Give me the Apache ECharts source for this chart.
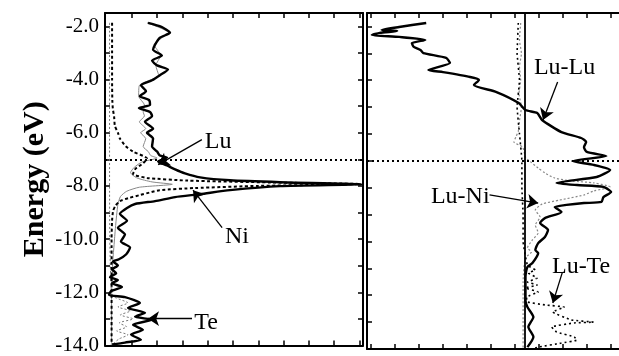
<!DOCTYPE html>
<html>
<head>
<meta charset="utf-8">
<script src="https://cdn.jsdelivr.net/npm/echarts@6/dist/echarts.min.js"></script>
<style>
  html, body { margin: 0; padding: 0; background: #fff; }
  #chart { width: 619px; height: 356px; }
</style>
</head>
<body>
<div id="chart"></div>
<script>
// energy (eV) and DOS
const totalE = [-1.87,-2.02,-2.24,-2.43,-2.69,-2.88,-3.10,-3.29,-3.47,-3.62,-3.84,-4.03,-4.22,-4.44,-4.63,-4.77,-4.96,-5.07,-5.22,-5.37,-5.59,-5.85,-6.00,-6.22,-6.52,-6.71,-6.86,-6.93,-7.08,-7.23,-7.38,-7.53,-7.68,-7.79,-7.86,-7.94,-8.01,-8.16,-8.31,-8.42,-8.57,-8.68,-8.83,-9.05,-9.31,-9.57,-9.83,-10.09,-10.32,-10.58,-10.76,-10.84,-10.99,-11.14,-11.28,-11.43,-11.54,-11.66,-11.80,-11.95,-12.10,-12.18,-12.40,-12.59,-12.77,-12.92,-13.03,-13.22,-13.41,-13.59,-13.78,-13.89,-13.96];
const totalDos = [1.64,2.17,2.51,2.11,1.92,1.84,2.19,1.80,2.00,2.43,2.11,1.80,1.36,1.56,1.32,1.68,1.72,1.28,1.72,1.80,1.52,1.84,1.60,1.84,1.80,2.00,2.11,2.39,2.04,2.39,2.71,3.10,3.70,4.88,6.86,10.1,6.86,4.88,3.70,2.71,1.92,1.13,0.81,0.53,0.81,0.45,0.73,0.57,0.93,0.77,0.49,0.26,0.45,0.22,0.38,0.14,0.45,0.22,0.61,0.18,0.10,0.73,1.32,0.85,1.52,1.13,1.80,1.05,1.44,0.97,1.36,0.73,0.22];

const luE = [-1.87,-2.24,-2.69,-3.10,-3.47,-3.84,-4.22,-4.63,-4.96,-5.22,-5.37,-5.59,-5.85,-6.00,-6.22,-6.52,-6.71,-6.86,-6.95,-7.10,-7.30,-7.50,-7.70,-7.85,-7.94,-8.05,-8.20,-8.40,-8.70,-9.10,-9.60,-10.2,-10.8,-11.5,-12.2,-13.0,-13.96];
const luDos = [1.60,2.45,1.88,2.14,1.95,2.06,1.30,1.27,1.50,1.45,1.50,1.30,1.55,1.35,1.55,1.45,1.65,1.75,2.00,1.40,1.10,0.95,1.20,1.80,2.60,1.30,0.80,0.55,0.45,0.40,0.35,0.30,0.25,0.22,0.20,0.20,0.20];

const niE = [-1.87,-3.0,-4.0,-4.8,-5.1,-5.4,-5.74,-6.0,-6.22,-6.5,-6.71,-6.97,-7.15,-7.35,-7.55,-7.7,-7.8,-7.87,-7.93,-8.0,-8.08,-8.16,-8.25,-8.35,-8.45,-8.57,-8.75,-8.94,-9.3,-10,-11,-12,-13,-13.96];
const niDos = [0.22,0.22,0.22,0.23,0.25,0.30,0.33,0.45,0.53,0.75,1.05,1.60,1.45,1.15,1.05,1.6,3.2,6.5,10.0,6.0,3.5,2.1,1.7,1.3,0.9,0.53,0.35,0.26,0.22,0.2,0.2,0.2,0.2,0.2];

const teE = [-1.87,-4,-6,-8,-10,-11,-11.8,-12.05,-12.2,-12.4,-12.55,-12.7,-12.85,-13.0,-13.15,-13.3,-13.45,-13.6,-13.75,-13.9,-13.98];
const teDos = [0.12,0.12,0.12,0.12,0.13,0.15,0.18,0.2,0.35,0.85,0.45,0.95,0.55,1.05,0.5,0.8,0.4,0.85,0.5,0.3,0.2];

// COOP
const luluE = [-1.87,-2.02,-2.13,-2.17,-2.24,-2.32,-2.39,-2.50,-2.62,-2.76,-2.88,-2.99,-3.17,-3.36,-3.62,-3.70,-3.88,-3.99,-4.18,-4.44,-4.85,-5.11,-5.22,-5.48,-5.93,-6.15,-6.30,-6.49,-6.67,-6.82,-7.01,-7.15,-7.34,-7.60,-7.82,-7.90,-7.97,-8.16,-8.35,-8.53,-8.57,-8.64,-8.72,-8.90,-9.13,-9.31,-9.57,-9.83,-10.06,-10.32,-10.43,-10.80,-10.95,-11.3,-11.8,-12.2,-12.44,-12.81,-13.18,-13.55,-13.93];
const luluCoop = [-4.09,-5.22,-5.95,-5.30,-6.03,-6.36,-5.22,-4.13,-4.69,-4.61,-4.33,-4.21,-3.26,-3.10,-4.00,-3.39,-2.26,-1.89,-2.10,-1.16,-0.23,0.05,0.54,0.74,1.55,2.37,2.58,2.49,2.61,3.42,2.00,2.89,3.58,3.02,1.35,2.20,3.30,3.62,3.30,3.22,2.49,1.76,1.27,1.55,0.86,0.66,0.99,0.86,0.58,0.46,0.58,0.34,0.13,0.05,0.05,0.05,0.13,0.38,0.17,0.38,0.13];

const luniE = [-1.87,-2.5,-3.0,-3.5,-4.0,-4.5,-5.0,-5.5,-5.9,-6.11,-6.30,-6.49,-6.86,-6.97,-7.27,-7.45,-7.64,-7.75,-7.82,-7.97,-8.12,-8.27,-8.46,-8.61,-8.83,-9.09,-9.39,-9.68,-9.94,-10.24,-10.39,-10.61,-11.5,-12.5,-13.96];
const luniCoop = [-0.15,-0.2,-0.12,-0.2,-0.15,-0.22,-0.12,-0.2,-0.25,-0.35,-0.43,-0.07,0.05,0.17,0.58,0.86,1.27,2.0,2.9,3.58,2.9,2.49,1.47,0.74,0.46,0.66,0.46,0.58,0.34,0.13,0.30,0.05,-0.05,-0.05,-0.05];

const luteE = [-1.87,-3.0,-4.0,-5.0,-6.0,-7.0,-8.0,-9.0,-10.0,-10.88,-11.06,-11.17,-11.36,-11.51,-11.62,-11.73,-11.88,-12.07,-12.25,-12.36,-12.44,-12.62,-12.92,-13.00,-13.03,-13.18,-13.37,-13.55,-13.67,-13.78,-13.93,-14.0];
const luteCoop = [-0.25,-0.3,-0.2,-0.3,-0.2,-0.1,-0.1,-0.05,-0.05,0.13,0.46,0.17,0.54,0.13,0.54,0.05,0.58,0.09,0.13,0.86,1.67,1.18,1.96,2.89,2.08,1.14,1.35,2.08,2.20,1.55,0.58,0.34];

const fermiLevel = -7.0;
const leftTicks = [1,2,3,4,5,6,7,8,9,10];
const rightTicks = [-6.4,-5.4,-4.4,-3.4,-2.4,-1.4,-0.4,0.6,1.6,2.6,3.6];

const pairs = (xs, es) => es.map((e, i) => [xs[i], e]);
const serif = '"Liberation Serif", "DejaVu Serif", serif';
const black = '#000';

const lineAxis = { show: true, onZero: false, lineStyle: { color: black, width: 2 } };
function xAx(grid, pos, min, max, ticks) {
  return {
    type: 'value', gridIndex: grid, position: pos, min: min, max: max,
    axisLine: lineAxis,
    axisTick: { show: true, inside: true, length: 5, customValues: ticks, lineStyle: { color: black, width: 1.5 } },
    axisLabel: { show: false },
    splitLine: { show: false }
  };
}
function yAx(grid, pos, withLabels) {
  return {
    type: 'value', gridIndex: grid, position: pos, min: -14, max: -1.5, interval: 1,
    axisLine: lineAxis,
    axisTick: { show: true, inside: true, length: 5, lineStyle: { color: black, width: 1.5 } },
    axisLabel: withLabels ? {
      show: true, margin: 6, color: black, fontFamily: serif, fontSize: 21,
      formatter: v => (Math.abs(v % 2) < 1e-6 ? v.toFixed(1) : '')
    } : { show: false },
    splitLine: { show: false },
    name: withLabels ? 'Energy (eV)' : '',
    nameLocation: 'middle',
    nameGap: 55,
    nameTextStyle: { fontFamily: serif, fontWeight: 'bold', fontSize: 30, color: black }
  };
}
function arrow(from, to) {
  return [{ coord: from, symbol: 'none' }, { coord: to, symbol: 'arrow', symbolSize: 11 }];
}
function tag(text, at) {
  return { name: text, coord: at };
}
const arrowLine = (items) => ({
  silent: true, symbol: ['none', 'arrow'], symbolSize: 11,
  label: { show: false },
  itemStyle: { color: black },
  lineStyle: { color: black, width: 1.3, type: 'solid' },
  emphasis: { disabled: true },
  data: items
});
const tags = (items) => ({
  silent: true, symbol: 'circle', symbolSize: 0,
  label: { show: true, position: 'inside', formatter: '{b}', color: black, fontFamily: serif, fontSize: 24 },
  data: items
});
const fermi = {
  silent: true, symbol: 'none', label: { show: false },
  lineStyle: { color: black, width: 2, type: [2, 3] },
  emphasis: { disabled: true },
  data: [{ yAxis: fermiLevel }]
};

const chart = echarts.init(document.getElementById('chart'));
chart.setOption({
  animation: false,
  backgroundColor: '#fff',
  grid: [
    { left: 105, top: 13, width: 258, height: 336 },
    { left: 367, top: 13, width: 259, height: 336 }
  ],
  xAxis: [
    xAx(0, 'bottom', -0.06, 10.14, leftTicks),
    xAx(0, 'top', -0.06, 10.14, leftTicks),
    xAx(1, 'bottom', -6.56, 3.95, rightTicks),
    xAx(1, 'top', -6.56, 3.95, rightTicks)
  ],
  yAxis: [
    yAx(0, 'left', true),
    yAx(0, 'right', false),
    yAx(1, 'left', false)
  ],
  series: [
    {
      name: 'Te', type: 'line', xAxisIndex: 0, yAxisIndex: 0, showSymbol: false, smooth: 0.2,
      lineStyle: { color: '#777', width: 1, type: [2, 2] },
      data: pairs(teDos, teE),
      markLine: fermi
    },
    {
      name: 'Lu', type: 'line', xAxisIndex: 0, yAxisIndex: 0, showSymbol: false, smooth: 0.2,
      lineStyle: { color: '#888', width: 1 },
      data: pairs(luDos, luE)
    },
    {
      name: 'Ni', type: 'line', xAxisIndex: 0, yAxisIndex: 0, showSymbol: false, smooth: 0.2,
      lineStyle: { color: black, width: 2, type: [3, 2.5] },
      data: pairs(niDos, niE)
    },
    {
      name: 'Total', type: 'line', xAxisIndex: 0, yAxisIndex: 0, showSymbol: false, smooth: 0.2,
      lineStyle: { color: black, width: 2.4 },
      data: pairs(totalDos, totalE),
      markLine: arrowLine([
        arrow([3.77, -6.26], [2.04, -7.2]),
        arrow([4.57, -9.57], [3.42, -8.16]),
        arrow([3.38, -12.99], [1.64, -12.99])
      ]),
      markPoint: tags([
        tag('Lu', [4.41, -6.34]),
        tag('Ni', [5.16, -9.91]),
        tag('Te', [3.94, -13.14])
      ])
    },
    {
      name: 'Lu-Ni', type: 'line', xAxisIndex: 2, yAxisIndex: 2, showSymbol: false, smooth: 0.2,
      lineStyle: { color: '#888', width: 1.2, type: [2, 2] },
      data: pairs(luniCoop, luniE)
    },
    {
      name: 'Lu-Te', type: 'line', xAxisIndex: 2, yAxisIndex: 2, showSymbol: false, smooth: 0.1,
      lineStyle: { color: black, width: 1.6, type: [2, 3] },
      data: pairs(luteCoop, luteE),
      markLine: {
        silent: true, symbol: 'none', label: { show: false },
        emphasis: { disabled: true },
        lineStyle: { color: black, width: 2, type: [2, 3] },
        data: [{ yAxis: fermiLevel }, { xAxis: 0, lineStyle: { type: 'solid', width: 1.8 } }]
      }
    },
    {
      name: 'Lu-Lu', type: 'line', xAxisIndex: 2, yAxisIndex: 2, showSymbol: false, smooth: 0.2,
      lineStyle: { color: black, width: 2.4 },
      data: pairs(luluCoop, luluE),
      markLine: arrowLine([
        arrow([1.39, -4.07], [0.78, -5.48]),
        arrow([-1.45, -8.27], [0.58, -8.57]),
        arrow([1.59, -11.14], [1.19, -12.29])
      ]),
      markPoint: tags([
        tag('Lu-Lu', [1.68, -3.55]),
        tag('Lu-Ni', [-2.67, -8.35]),
        tag('Lu-Te', [2.37, -10.95])
      ])
    }
  ]
});
</script>
</body>
</html>
